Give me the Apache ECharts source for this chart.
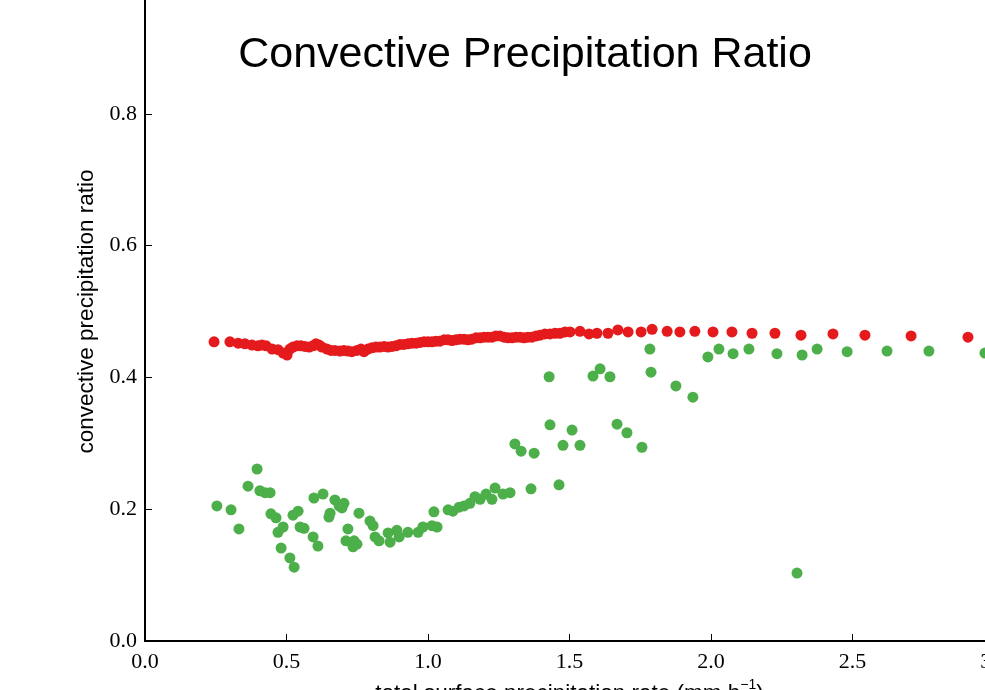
<!DOCTYPE html>
<html>

<head>
    <title>Convective Precipitation Ratio</title>
    <meta charset="utf-8">
    <script src="https://cdn.jsdelivr.net/npm/echarts@6/dist/echarts.min.js"></script>
    <style>
        body { margin: 0; overflow: hidden; background: #fff; }
        /* the plot runs past the window on the right, top and bottom */
        #main { position: absolute; left: 0; top: -40px; width: 1100px; height: 800px; }
    </style>
</head>

<body>
    <div id="main"></div>

    <script type="text/javascript">
        // [total surface precipitation rate, convective ratio]
        var redPoints = [
            [0.244, 0.454], [0.300, 0.454], [0.329, 0.452], [0.353, 0.451], [0.378, 0.449],
            [0.399, 0.448], [0.413, 0.449], [0.428, 0.448], [0.449, 0.443], [0.470, 0.442],
            [0.488, 0.437], [0.502, 0.434], [0.512, 0.443], [0.523, 0.446], [0.537, 0.448],
            [0.551, 0.448], [0.565, 0.447], [0.580, 0.446], [0.594, 0.448], [0.604, 0.451],
            [0.615, 0.449], [0.625, 0.446], [0.643, 0.443], [0.657, 0.441], [0.671, 0.441],
            [0.689, 0.440], [0.703, 0.441], [0.717, 0.440], [0.731, 0.439], [0.749, 0.441],
            [0.763, 0.443], [0.774, 0.439], [0.788, 0.443], [0.802, 0.445], [0.816, 0.446],
            [0.830, 0.446], [0.845, 0.447], [0.859, 0.446], [0.873, 0.447], [0.887, 0.448],
            [0.901, 0.450], [0.915, 0.450], [0.929, 0.451], [0.943, 0.452], [0.958, 0.452],
            [0.972, 0.453], [0.986, 0.454], [1.000, 0.454], [1.014, 0.454], [1.028, 0.455],
            [1.042, 0.455], [1.057, 0.457], [1.071, 0.457], [1.085, 0.456], [1.099, 0.457],
            [1.113, 0.458], [1.127, 0.458], [1.141, 0.457], [1.155, 0.458], [1.170, 0.460],
            [1.184, 0.460], [1.198, 0.461], [1.212, 0.461], [1.226, 0.461], [1.240, 0.463],
            [1.254, 0.463], [1.269, 0.461], [1.283, 0.460], [1.297, 0.460], [1.311, 0.461],
            [1.325, 0.461], [1.339, 0.460], [1.353, 0.461], [1.367, 0.461], [1.382, 0.463],
            [1.396, 0.464], [1.413, 0.466], [1.431, 0.466], [1.449, 0.467], [1.466, 0.467],
            [1.484, 0.469], [1.502, 0.469], [1.537, 0.470], [1.569, 0.466], [1.597, 0.467],
            [1.636, 0.467], [1.671, 0.472], [1.707, 0.469], [1.753, 0.469], [1.792, 0.473],
            [1.845, 0.470], [1.890, 0.469], [1.943, 0.470], [2.007, 0.469], [2.074, 0.469],
            [2.145, 0.467], [2.226, 0.467], [2.318, 0.464], [2.431, 0.466], [2.544, 0.464],
            [2.707, 0.463], [2.908, 0.461]
        ];

        var greenPoints = [
            [0.254, 0.205], [0.304, 0.199], [0.332, 0.170], [0.364, 0.235], [0.396, 0.261],
            [0.406, 0.228], [0.424, 0.225], [0.442, 0.225], [0.445, 0.193], [0.463, 0.187],
            [0.470, 0.165], [0.481, 0.141], [0.488, 0.173], [0.512, 0.126], [0.523, 0.191],
            [0.527, 0.112], [0.541, 0.197], [0.548, 0.173], [0.562, 0.171], [0.594, 0.158],
            [0.597, 0.217], [0.611, 0.144], [0.629, 0.223], [0.650, 0.188], [0.654, 0.194],
            [0.671, 0.214], [0.686, 0.205], [0.696, 0.202], [0.703, 0.209], [0.710, 0.152],
            [0.717, 0.170], [0.735, 0.143], [0.739, 0.152], [0.749, 0.147], [0.756, 0.194],
            [0.795, 0.182], [0.806, 0.175], [0.813, 0.158], [0.827, 0.152], [0.859, 0.164],
            [0.866, 0.150], [0.890, 0.168], [0.898, 0.158], [0.929, 0.165], [0.965, 0.165],
            [0.982, 0.173], [1.014, 0.175], [1.021, 0.196], [1.032, 0.173], [1.071, 0.199],
            [1.088, 0.197], [1.110, 0.203], [1.127, 0.205], [1.148, 0.209], [1.166, 0.219],
            [1.184, 0.215], [1.205, 0.223], [1.226, 0.215], [1.237, 0.232], [1.265, 0.223],
            [1.290, 0.225], [1.307, 0.299], [1.329, 0.288], [1.364, 0.231], [1.375, 0.285],
            [1.428, 0.401], [1.431, 0.328], [1.463, 0.237], [1.477, 0.297], [1.509, 0.320],
            [1.537, 0.297], [1.583, 0.402], [1.608, 0.413], [1.643, 0.401], [1.668, 0.329],
            [1.703, 0.316], [1.756, 0.294], [1.784, 0.443], [1.788, 0.408], [1.876, 0.387],
            [1.936, 0.370], [1.989, 0.431], [2.028, 0.443], [2.078, 0.436], [2.134, 0.443],
            [2.233, 0.436], [2.304, 0.103], [2.322, 0.434], [2.375, 0.443], [2.481, 0.439],
            [2.622, 0.440], [2.770, 0.440], [2.968, 0.437]
        ];

        var myChart = echarts.init(document.getElementById('main'));

        var tickFont = { fontFamily: 'Liberation Serif', fontSize: 22, color: '#000' };

        var option = {
            animation: false,
            title: {
                text: 'Convective Precipitation Ratio',
                left: 520,
                textAlign: 'center',
                top: 69,
                textStyle: { fontFamily: 'Liberation Sans', fontSize: 43, fontWeight: 'normal', color: '#000' }
            },
            grid: { left: 145, top: 22, width: 849, height: 659 },
            xAxis: {
                type: 'value',
                min: 0,
                max: 3,
                interval: 0.5,
                name: 'total surface precipitation rate (mm h{sup|\u22121})',
                nameLocation: 'middle',
                nameGap: 37,
                nameTextStyle: {
                    fontFamily: 'Liberation Sans', fontSize: 22.5, color: '#000', verticalAlign: 'top',
                    rich: { sup: { fontFamily: 'Liberation Sans', fontSize: 14, verticalAlign: 'top', padding: [-4, 0, 0, 0] } }
                },
                axisLine: { lineStyle: { color: '#000', width: 2 } },
                axisTick: { inside: true, length: 7, lineStyle: { color: '#000', width: 1 } },
                axisLabel: Object.assign({ margin: 10, formatter: function (v) { return v.toFixed(1); } }, tickFont),
                splitLine: { show: false }
            },
            yAxis: {
                type: 'value',
                min: 0,
                max: 1,
                interval: 0.2,
                name: 'convective precipitation ratio',
                nameLocation: 'middle',
                nameRotate: 90,
                nameGap: 45,
                nameTextStyle: { fontFamily: 'Liberation Sans', fontSize: 22.5, color: '#000' },
                axisLine: { show: true, lineStyle: { color: '#000', width: 2 } },
                axisTick: { show: true, inside: true, length: 7, lineStyle: { color: '#000', width: 1 } },
                axisLabel: Object.assign({ margin: 8, formatter: function (v) { return v.toFixed(1); } }, tickFont),
                splitLine: { show: false }
            },
            series: [{
                type: 'scatter',
                data: redPoints,
                symbolSize: 11,
                itemStyle: { color: '#e41a1c', opacity: 1 }
            }, {
                type: 'scatter',
                data: greenPoints,
                symbolSize: 11,
                itemStyle: { color: '#4daf4a', opacity: 1 }
            }]
        };

        myChart.setOption(option);
    </script>
</body>

</html>
